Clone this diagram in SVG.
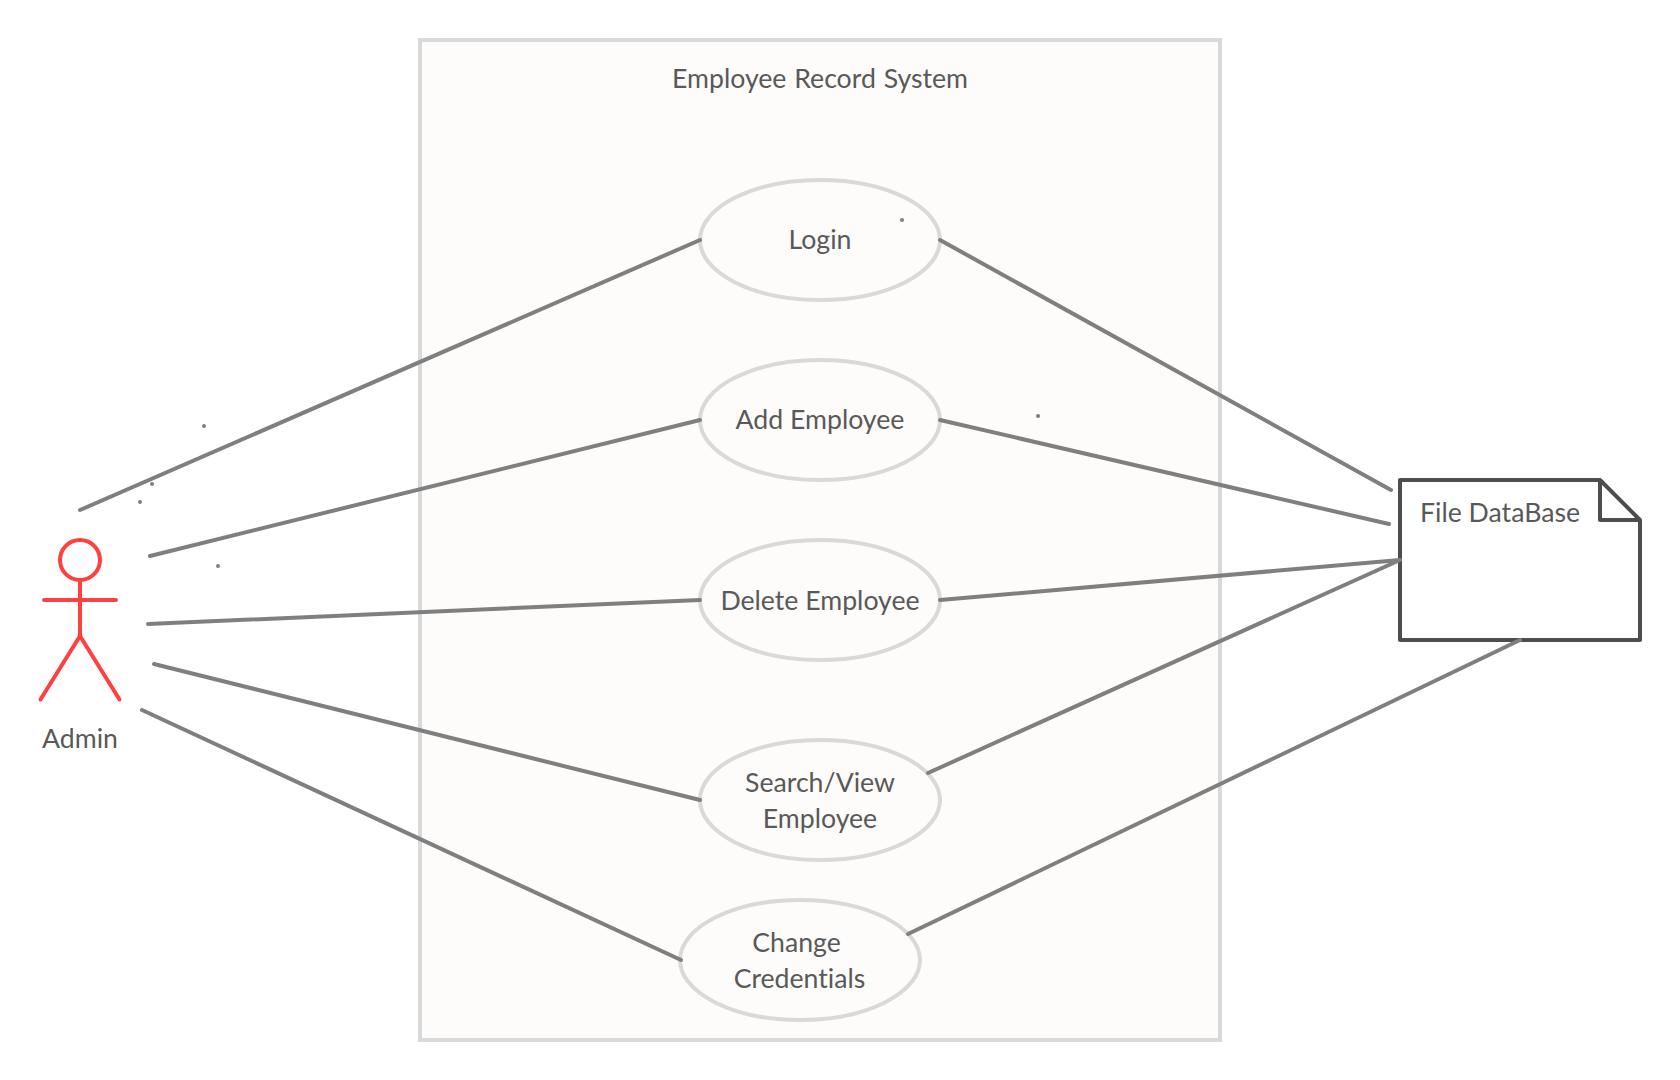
<svg xmlns="http://www.w3.org/2000/svg" width="1680" height="1080" viewBox="0 0 1680 1080">
<style>
text{font-family:Lato,"Open Sans",sans-serif;font-size:26.67px;fill:#595959;text-anchor:middle;font-variant-ligatures:none}
.uc{fill:#fdfcfb;stroke:#d9d9d9;stroke-width:4}
.c{stroke:#7f7f7f;stroke-width:4;stroke-linecap:round;fill:none}
.d{fill:#7f7f7f}
.a{stroke:#ff4040;stroke-width:4;stroke-linecap:round;fill:none}
</style>
<rect width="1680" height="1080" fill="#fff"/>
<g id="system"><rect x="420" y="40" width="800" height="1000" fill="#fdfcfb" stroke="#d9d9d9" stroke-width="4"/><text x="820" y="88" word-spacing="1">Employee Record System</text></g>
<g id="login"><ellipse class="uc" cx="820" cy="240" rx="120" ry="60"/><text x="820" y="249">Login</text></g>
<g id="add"><ellipse class="uc" cx="820" cy="420" rx="120" ry="60"/><text x="820" y="429">Add Employee</text></g>
<g id="delete"><ellipse class="uc" cx="820" cy="600" rx="120" ry="60"/><text x="820" y="610">Delete Employee</text></g>
<g id="search"><ellipse class="uc" cx="820" cy="800" rx="120" ry="60"/><text x="820" y="792">Search/View</text><text x="820" y="828">Employee</text></g>
<g id="change"><ellipse class="uc" cx="800" cy="960" rx="120" ry="60"/><text x="796.5" y="952">Change</text><text x="799.5" y="988">Credentials</text></g>
<g id="admin"><circle class="a" cx="80" cy="560" r="20"/><path class="a" d="M80 580V636M44 600H116M40.5 699.5L80 636L119.5 699.5"/><text x="80" y="748">Admin</text></g>
<g id="database"><path d="M1400 480H1600L1640 520V640H1400Z" fill="#fff" stroke="#4d4d4d" stroke-width="4" stroke-linejoin="round"/><path d="M1600 480V520H1640" fill="none" stroke="#4d4d4d" stroke-width="4" stroke-linejoin="round"/><text x="1500" y="522">File DataBase</text></g>
<g id="connectors">
<path class="c" d="M80 510L700 240M150 556L700 420M148 624L700 600M154 664L700 800M142 710L681 960"/>
<path class="c" d="M940 240L1391 490M940 420L1389 524M940 600L1400 560M928 773L1400 560M908 934L1520 640"/>
<circle class="d" cx="204" cy="426" r="2"/><circle class="d" cx="152" cy="484" r="2"/><circle class="d" cx="140" cy="502" r="2"/><circle class="d" cx="218" cy="566" r="2"/><circle class="d" cx="902" cy="220" r="2"/><circle class="d" cx="1038" cy="416" r="2"/>
</g>
</svg>
